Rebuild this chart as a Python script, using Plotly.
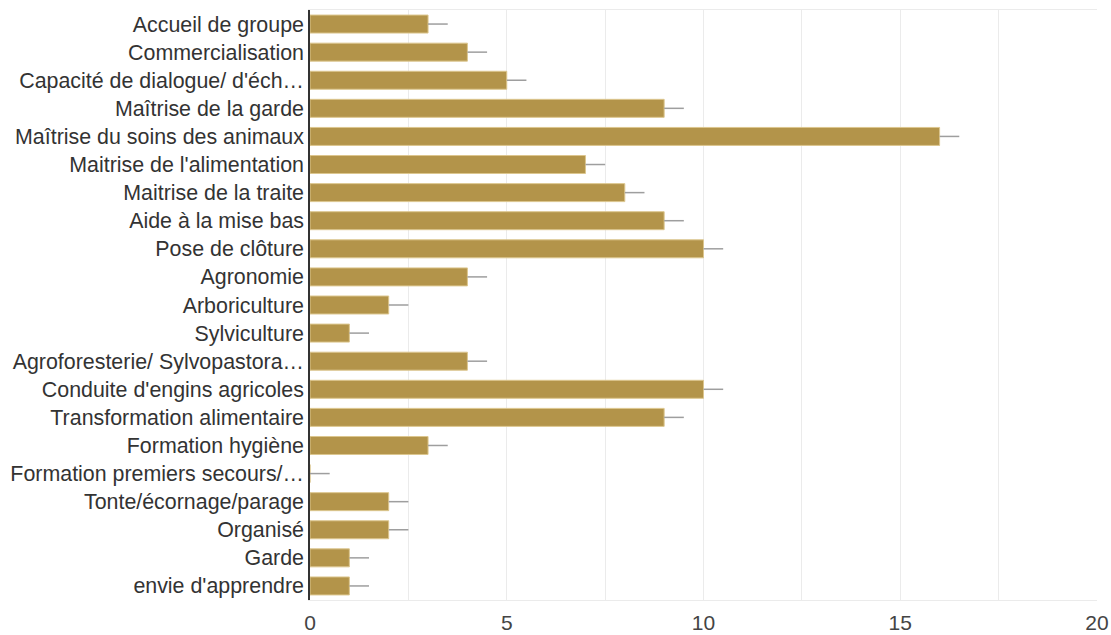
import plotly.graph_objects as go

categories = [
    "Accueil de groupe",
    "Commercialisation",
    "Capacité de dialogue/ d'éch…",
    "Maîtrise de la garde",
    "Maîtrise du soins des animaux",
    "Maitrise de l'alimentation",
    "Maitrise de la traite",
    "Aide à la mise bas",
    "Pose de clôture",
    "Agronomie",
    "Arboriculture",
    "Sylviculture",
    "Agroforesterie/ Sylvopastora…",
    "Conduite d'engins agricoles",
    "Transformation alimentaire",
    "Formation hygiène",
    "Formation premiers secours/…",
    "Tonte/écornage/parage",
    "Organisé",
    "Garde",
    "envie d'apprendre",
]
counts = [3, 4, 5, 9, 16, 7, 8, 9, 10, 4, 2, 1, 4, 10, 9, 3, 0, 2, 2, 1, 1]
whisker = [0.5] * len(counts)
tick_vals = [0, 5, 10, 15, 20]

fig = go.Figure(
    go.Bar(
        y=categories,
        x=counts,
        orientation="h",
        marker=dict(color="#b3944a", line=dict(color="#dcc68e", width=1)),
        error_x=dict(
            type="data",
            symmetric=False,
            array=whisker,
            arrayminus=[0] * len(counts),
            color="#9e9e9e",
            thickness=1.5,
            width=0,
        ),
        hoverinfo="x+y",
    )
)

fig.update_layout(
    width=1111,
    height=635,
    margin=dict(l=310, r=14, t=10, b=35, autoexpand=False),
    paper_bgcolor="white",
    plot_bgcolor="white",
    bargap=0.36,
    showlegend=False,
    font=dict(family="Liberation Sans, Arial, sans-serif", size=21, color="#333333"),
    xaxis=dict(
        range=[0, 20],
        tickvals=tick_vals,
        showgrid=True,
        gridcolor="#ebebeb",
        gridwidth=1,
        minor=dict(dtick=2.5, showgrid=True, gridcolor="#ebebeb", gridwidth=1),
        zeroline=False,
        showline=True,
        linecolor="#ebebeb",
        mirror=True,
        ticks="outside",
        ticklen=4,
        tickcolor="rgba(0,0,0,0)",
        automargin=False,
        tickfont=dict(size=21, color="#444444"),
    ),
    yaxis=dict(
        autorange="reversed",
        showgrid=False,
        zeroline=False,
        showline=True,
        linecolor="#333333",
        linewidth=1.5,
        ticks="",
        automargin=False,
        tickfont=dict(size=21.4, color="#333333"),
    ),
)

fig.write_html("out.html")
